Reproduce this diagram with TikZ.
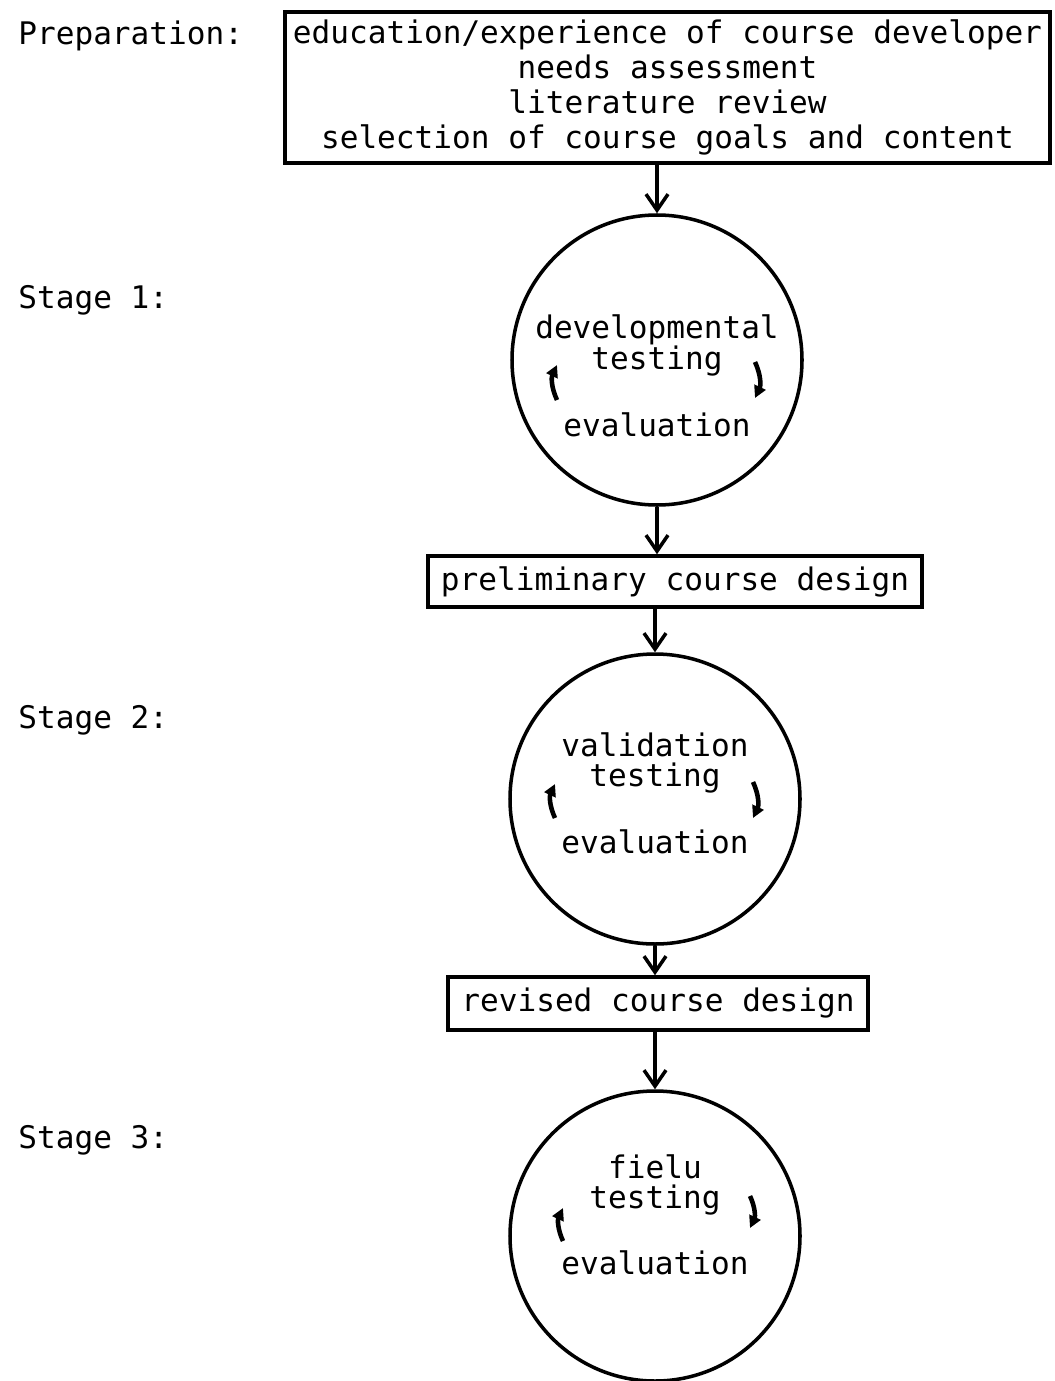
\documentclass[tikz,border=0pt]{standalone}
\usepackage{fontspec}
\setmonofont{DejaVu Sans Mono}
\usetikzlibrary{arrows.meta}

\begin{document}
\begin{tikzpicture}

\tikzset{txt/.style={font=\ttfamily\fontsize{17.7}{19.8}\selectfont,inner sep=0pt,align=center}} %texte machine
\tikzset{boite/.style={txt,draw,line width=2pt}}
\tikzset{rond/.style={draw,circle,line width=2pt,minimum size=5.8cm,inner sep=0pt}}
\tikzset{fleche/.style={line width=2pt,-{Straight Barb[length=0.32cm,width=0.44cm,line width=2pt]}}}
\tikzset{boucle/.style={line width=2.6pt,-{Triangle[length=0.24cm,width=0.24cm]}}}

\useasboundingbox (0,0) rectangle (21.1,-27.62);

%----------preparation------------
\node[boite,minimum width=15.3cm,minimum height=3.02cm] (prep) at (13.35,-1.75) {education/experience of course developer\\needs assessment\\literature review\\selection of course goals and content};
\node[txt,anchor=west] (lprep) at (0.36,-0.72) {Preparation:};

%----------stage 1------------
\node[txt,anchor=west] (lstage1) at (0.36,-6.0) {Stage 1:};
\node[rond] (dev) at (13.14,-7.2) {};
\node[txt] (dev1) at ([yshift=0.6cm]dev.center) {developmental};
\node[txt] (dev2) at ([yshift=-0.02cm]dev.center) {testing};
\node[txt] (dev3) at ([yshift=-1.3cm]dev.center) {evaluation};
\draw[boucle] ([shift={(-2.0,-0.8)}]dev.center) to[bend left=25] ([shift={(-2.0,-0.1)}]dev.center);
\draw[boucle] ([shift={(1.96,-0.04)}]dev.center) to[bend left=25] ([shift={(1.96,-0.76)}]dev.center);

\draw[fleche] (dev.north |- prep.south) -- (dev.north);
%----------FIN stage 1------------

\node[boite,minimum width=9.88cm,minimum height=1.02cm] (prelim) at (13.5,-11.63) {preliminary course design};
\draw[fleche] (dev.south) -- (dev.south |- prelim.north);

%----------stage 2------------
\node[txt,anchor=west] (lstage2) at (0.36,-14.4) {Stage 2:};
\node[rond] (valid) at (13.1,-15.98) {};
\node[txt] (valid1) at ([yshift=1.08cm]valid.center) {validation};
\node[txt] (valid2) at ([yshift=0.42cm]valid.center) {testing};
\node[txt] (valid3) at ([yshift=-0.86cm]valid.center) {evaluation};
\draw[boucle] ([shift={(-2.0,-0.38)}]valid.center) to[bend left=25] ([shift={(-2.0,0.3)}]valid.center);
\draw[boucle] ([shift={(1.96,0.34)}]valid.center) to[bend left=25] ([shift={(1.96,-0.38)}]valid.center);

\draw[fleche] (valid.north |- prelim.south) -- (valid.north);
%----------FIN stage 2------------

\node[boite,minimum width=8.4cm,minimum height=1.06cm] (revised) at (13.16,-20.07) {revised course design};
\draw[fleche] (valid.south) -- (valid.south |- revised.north);

%----------stage 3------------
\node[txt,anchor=west] (lstage3) at (0.36,-22.8) {Stage 3:};
\node[rond] (field) at (13.1,-24.72) {};
\node[txt] (field1) at ([yshift=1.38cm]field.center) {fielu};
\node[txt] (field2) at ([yshift=0.72cm]field.center) {testing};
\node[txt] (field3) at ([yshift=-0.54cm]field.center) {evaluation};
\draw[boucle] ([shift={(-1.84,-0.1)}]field.center) to[bend left=25] ([shift={(-1.84,0.56)}]field.center);
\draw[boucle] ([shift={(1.9,0.8)}]field.center) to[bend left=25] ([shift={(1.9,0.16)}]field.center);

\draw[fleche] (field.north |- revised.south) -- (field.north);
%----------FIN stage 3------------

\end{tikzpicture}
\end{document}
